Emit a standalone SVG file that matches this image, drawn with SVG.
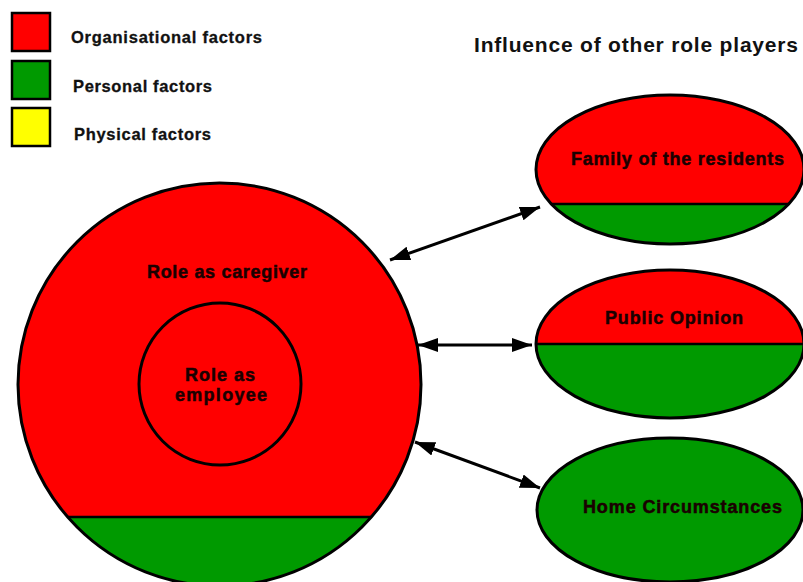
<svg xmlns="http://www.w3.org/2000/svg" width="803" height="582" viewBox="0 0 803 582">
<defs>
<style>
.red{fill:#ff0000}
.green{fill:#009a00}
.outline{fill:none;stroke:#000;stroke-width:3}
.lbl{font-family:"Liberation Sans",Arial,sans-serif;font-weight:bold;fill:#1a0000;stroke:#1a0000;stroke-width:0.5;text-anchor:middle;font-size:18px}
.leg{font-family:"Liberation Sans",Arial,sans-serif;font-weight:bold;fill:#111;stroke:#111;stroke-width:0.3;font-size:16.5px}
.conn{stroke:#000;stroke-width:3;fill:none;marker-start:url(#ah);marker-end:url(#ah)}
</style>
<marker id="ah" viewBox="0 0 20 14" markerUnits="userSpaceOnUse" markerWidth="20" markerHeight="14" refX="20" refY="7" orient="auto-start-reverse">
<path d="M0,0 L20,7 L0,14 z" fill="#000"/>
</marker>
</defs>
<rect width="803" height="582" fill="#fff"/>
<g id="legend">
<rect x="12" y="13" width="38" height="38" fill="#ff0000" stroke="#000" stroke-width="2.5"/>
<rect x="12" y="61" width="38" height="38" fill="#009a00" stroke="#000" stroke-width="2.5"/>
<rect x="12" y="108" width="38" height="38" fill="#ffff00" stroke="#000" stroke-width="2.5"/>
<text class="leg" x="71" y="43" textLength="191" lengthAdjust="spacing">Organisational factors</text>
<text class="leg" x="73" y="92" textLength="139" lengthAdjust="spacing">Personal factors</text>
<text class="leg" x="74" y="140" textLength="137" lengthAdjust="spacing">Physical factors</text>
</g>
<text id="title" x="474" y="52" font-family="'Liberation Sans',Arial,sans-serif" font-weight="bold" font-size="21" fill="#111" textLength="324" lengthAdjust="spacing">Influence of other role players</text>
<g id="caregiver">
<circle class="red" cx="219.5" cy="384.5" r="201.5"/>
<path class="green" d="M67.7,517 L371.3,517 A201.5,201.5 0 0 1 67.7,517 Z"/>
<line x1="67.7" y1="517" x2="371.3" y2="517" stroke="#000" stroke-width="2.5"/>
<circle class="outline" cx="219.5" cy="384.5" r="201.5"/>
<text class="lbl" x="227" y="278" textLength="160" lengthAdjust="spacing">Role as caregiver</text>
</g>
<g id="employee">
<circle class="outline" cx="220" cy="384" r="81"/>
<text class="lbl" x="220" y="381" textLength="70" lengthAdjust="spacing">Role as</text>
<text class="lbl" x="221" y="401" textLength="92" lengthAdjust="spacing">employee</text>
</g>
<g id="family">
<ellipse class="red" cx="670" cy="169.5" rx="134" ry="74.5"/>
<path class="green" d="M551.2,204 L788.8,204 A134,74.5 0 0 1 551.2,204 Z"/>
<line x1="551.2" y1="204" x2="788.8" y2="204" stroke="#000" stroke-width="2.5"/>
<ellipse class="outline" cx="670" cy="169.5" rx="134" ry="74.5"/>
<text class="lbl" x="677.5" y="165" textLength="213" lengthAdjust="spacing">Family of the residents</text>
</g>
<g id="public">
<ellipse class="red" cx="670" cy="344" rx="134" ry="74"/>
<path class="green" d="M536,344 L804,344 A134,74 0 0 1 536,344 Z"/>
<line x1="536" y1="344" x2="804" y2="344" stroke="#000" stroke-width="2.5"/>
<ellipse class="outline" cx="670" cy="344" rx="134" ry="74"/>
<text class="lbl" x="674" y="324" textLength="138" lengthAdjust="spacing">Public Opinion</text>
</g>
<g id="home">
<ellipse class="green" cx="670" cy="510" rx="133" ry="72"/>
<ellipse class="outline" cx="670" cy="510" rx="133" ry="72"/>
<text class="lbl" x="682.5" y="513" textLength="199" lengthAdjust="spacing">Home Circumstances</text>
</g>
<g id="connectors">
<line class="conn" x1="390" y1="260" x2="540" y2="207"/>
<line class="conn" x1="418" y1="345" x2="532" y2="345"/>
<line class="conn" x1="415" y1="442" x2="540" y2="488"/>
</g>
</svg>
